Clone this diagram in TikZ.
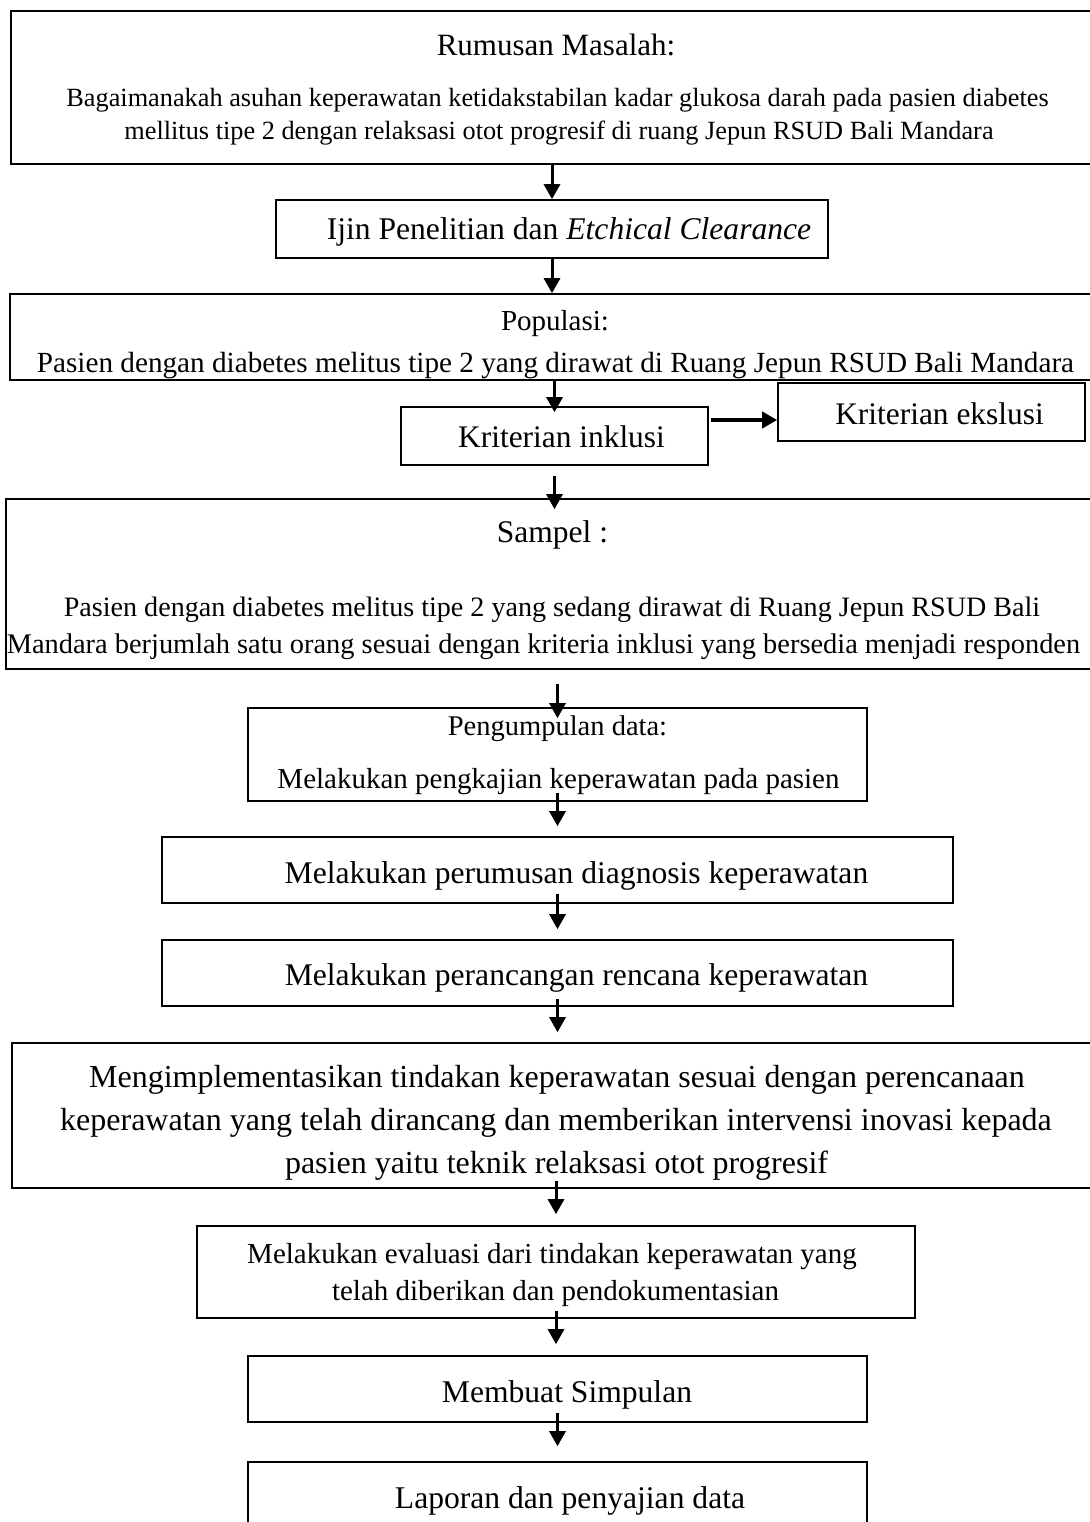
\documentclass[tikz,border=0pt]{standalone}
\usepackage{fontspec}
\setmainfont{Liberation Serif}
\usetikzlibrary{arrows.meta}
\newcommand{\fsz}[1]{\fontsize{#1}{#1}\selectfont}
\begin{document}
\begin{tikzpicture}[x=1pt,y=-1pt,
  box/.style={draw, line width=1.6pt, inner sep=0pt, rectangle},
  txt/.style={anchor=base, inner sep=0pt},
  arr/.style={line width=3pt, -{Triangle[width=16pt,length=15pt]}},
  harr/.style={line width=4pt, -{Triangle[width=16pt,length=15pt]}},
]
\useasboundingbox (0,0) rectangle (1089,1522);
% boxes
\node[box, line width=2.2pt, minimum width=1089pt, minimum height=153pt] (b1) at (555.5,87.5) {};
\node[box, minimum width=552pt, minimum height=58pt] (b2) at (552,229) {};
\node[box, minimum width=1090pt, minimum height=86pt] (b3) at (555,337) {};
\node[box, minimum width=307pt, minimum height=58pt] (b4) at (554.5,436) {};
\node[box, minimum width=307pt, minimum height=58pt] (b5) at (931.5,412) {};
\node[box, minimum width=1094pt, minimum height=170pt] (b6) at (553,584) {};
\node[box, minimum width=619pt, minimum height=93pt] (b7) at (557.5,754.5) {};
\node[box, minimum width=791pt, minimum height=66pt] (b8) at (557.5,870) {};
\node[box, minimum width=791pt, minimum height=66pt] (b9) at (557.5,973) {};
\node[box, minimum width=1088pt, minimum height=145pt] (b10) at (556,1115.5) {};
\node[box, minimum width=718pt, minimum height=92pt] (b11) at (556,1272) {};
\node[box, minimum width=619pt, minimum height=66pt] (b12) at (557.5,1389) {};
\node[box, minimum width=619pt, minimum height=78pt] (b13) at (557.5,1501) {};
% texts
\node[txt] (t1a) at (556,56) {\fsz{31}Rumusan Masalah:};
\node[txt] (t1b) at (557.5,107) {\fsz{26.3}Bagaimanakah asuhan keperawatan ketidakstabilan kadar glukosa darah pada pasien diabetes};
\node[txt] (t1c) at (559,140) {\fsz{26.3}mellitus tipe 2 dengan relaksasi otot progresif di ruang Jepun RSUD Bali Mandara};
\node[txt] (t2) at (569,240) {\fsz{31.6}Ijin Penelitian dan \textit{Etchical Clearance}};
\node[txt] (t3a) at (555,330) {\fsz{29}Populasi:};
\node[txt] (t3b) at (555.5,372) {\fsz{29.2}Pasien dengan diabetes melitus tipe 2 yang dirawat di Ruang Jepun RSUD Bali Mandara};
\node[txt] (t4) at (561.5,447) {\fsz{31.4}Kriterian inklusi};
\node[txt] (t5) at (939.5,424) {\fsz{31.4}Kriterian ekslusi};
\node[txt] (t6a) at (552.5,542) {\fsz{31.5}Sampel :};
\node[txt] (t6b) at (552,616) {\fsz{28.1}Pasien dengan diabetes melitus tipe 2 yang sedang dirawat di Ruang Jepun RSUD Bali};
\node[txt] (t6c) at (543.5,653) {\fsz{28.4}Mandara berjumlah satu orang sesuai dengan kriteria inklusi yang bersedia menjadi responden};
\node[txt] (t7a) at (557.5,735) {\fsz{28.5}Pengumpulan data:};
\node[txt] (t7b) at (558.5,788) {\fsz{29}Melakukan pengkajian keperawatan pada pasien};
\node[txt] (t8) at (576.5,883) {\fsz{31.6}Melakukan perumusan diagnosis keperawatan};
\node[txt] (t9) at (576.5,985) {\fsz{31.6}Melakukan perancangan rencana keperawatan};
\node[txt] (t10a) at (557,1087) {\fsz{32}Mengimplementasikan tindakan keperawatan sesuai dengan perencanaan};
\node[txt] (t10b) at (556,1130) {\fsz{32}keperawatan yang telah dirancang dan memberikan intervensi inovasi kepada};
\node[txt] (t10c) at (556.5,1173) {\fsz{32}pasien yaitu teknik relaksasi otot progresif};
\node[txt] (t11a) at (552,1263) {\fsz{29}Melakukan evaluasi dari tindakan keperawatan yang};
\node[txt] (t11b) at (555.5,1300) {\fsz{29}telah diberikan dan pendokumentasian};
\node[txt] (t12) at (567,1402) {\fsz{31.6}Membuat Simpulan};
\node[txt] (t13) at (570,1508) {\fsz{31.6}Laporan dan penyajian data};
% arrows
\draw[arr] (b2.north |- b1.south) -- (b2.north);
\draw[arr] (b2.south) -- (b2.south |- b3.north);
\draw[arr, shorten >=-6pt] (b4.north |- b3.south) -- (b4.north);
\coordinate (hy) at (0,420);
\draw[harr, shorten <=2pt] (b4.east |- hy) -- (b5.west |- hy);
\draw[arr, shorten <=10pt, shorten >=-11pt] (b4.south) -- (b4.south |- b6.north);
\draw[arr, shorten <=14pt, shorten >=-11pt] (b7.north |- b6.south) -- (b7.north);
\draw[arr, shorten <=-9pt, shorten >=10pt] (b7.south) -- (b7.south |- b8.north);
\draw[arr, shorten <=-10pt, shorten >=10pt] (b8.south) -- (b9.north);
\draw[arr, shorten <=-8pt, shorten >=10pt] (b9.south) -- (b9.south |- b10.north);
\draw[arr, shorten <=-8pt, shorten >=11pt] (b11.north |- b10.south) -- (b11.north);
\draw[arr, shorten <=-8pt, shorten >=11pt] (b11.south) -- (b11.south |- b12.north);
\draw[arr, shorten <=-10pt, shorten >=15pt] (b12.south) -- (b13.north);
\end{tikzpicture}
\end{document}
